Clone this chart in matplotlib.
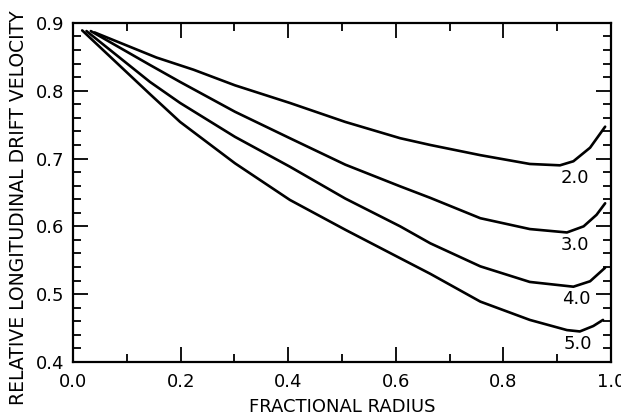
import matplotlib.pyplot as plt
from matplotlib.ticker import MultipleLocator

# curves, labelled by parameter value
x2 = [0.040, 0.155, 0.224, 0.301, 0.403, 0.506, 0.608, 0.664, 0.757, 0.849, 0.905, 0.930, 0.961, 0.989]
y2 = [0.886, 0.849, 0.831, 0.808, 0.782, 0.754, 0.730, 0.720, 0.705, 0.692, 0.690, 0.696, 0.716, 0.747]

x3 = [0.033, 0.143, 0.199, 0.301, 0.403, 0.506, 0.608, 0.664, 0.757, 0.849, 0.918, 0.949, 0.973, 0.989]
y3 = [0.888, 0.838, 0.813, 0.769, 0.730, 0.691, 0.659, 0.642, 0.612, 0.596, 0.591, 0.600, 0.617, 0.634]

x4 = [0.025, 0.143, 0.199, 0.301, 0.403, 0.506, 0.608, 0.664, 0.757, 0.849, 0.930, 0.961, 0.989]
y4 = [0.888, 0.813, 0.782, 0.732, 0.688, 0.641, 0.600, 0.575, 0.541, 0.518, 0.511, 0.519, 0.539]

x5 = [0.017, 0.143, 0.199, 0.301, 0.403, 0.506, 0.608, 0.664, 0.757, 0.849, 0.918, 0.942, 0.967, 0.985]
y5 = [0.889, 0.795, 0.754, 0.693, 0.639, 0.595, 0.553, 0.530, 0.489, 0.462, 0.447, 0.445, 0.453, 0.462]

labels = ["2.0", "3.0", "4.0", "5.0"]
label_x = [0.933, 0.933, 0.936, 0.939]
label_y = [0.671, 0.572, 0.493, 0.427]

fig = plt.figure(figsize=(6.21, 4.17), dpi=100)
ax = fig.add_axes([0.1176, 0.132, 0.8664, 0.813])

for xs, ys in [(x2, y2), (x3, y3), (x4, y4), (x5, y5)]:
    ax.plot(xs, ys, color="black", lw=1.9, solid_capstyle="round", solid_joinstyle="round")

for t, lx, ly in zip(labels, label_x, label_y):
    ax.text(lx, ly, t, fontsize=13, ha="center", va="center")

ax.set_xlim(0, 1)
ax.set_ylim(0.4, 0.9)
ax.xaxis.set_major_locator(MultipleLocator(0.2))
ax.xaxis.set_minor_locator(MultipleLocator(0.1))
ax.yaxis.set_major_locator(MultipleLocator(0.1))
ax.yaxis.set_minor_locator(MultipleLocator(0.02))
ax.set_xticklabels([f"{v:.1f}" for v in ax.get_xticks()])
ax.tick_params(which="both", direction="in", top=True, right=True, width=1.3, labelsize=13)
ax.tick_params(which="major", length=11)
ax.tick_params(which="minor", length=6)
ax.tick_params(axis="x", pad=8)
ax.tick_params(axis="y", pad=6)
for s in ax.spines.values():
    s.set_linewidth(1.6)

ax.set_xlabel("FRACTIONAL RADIUS", fontsize=13, labelpad=5)
ax.set_ylabel("RELATIVE LONGITUDINAL DRIFT VELOCITY", fontsize=13.5)
ax.yaxis.set_label_coords(-0.084, 0.456)

fig.savefig("out.png", dpi=100)
